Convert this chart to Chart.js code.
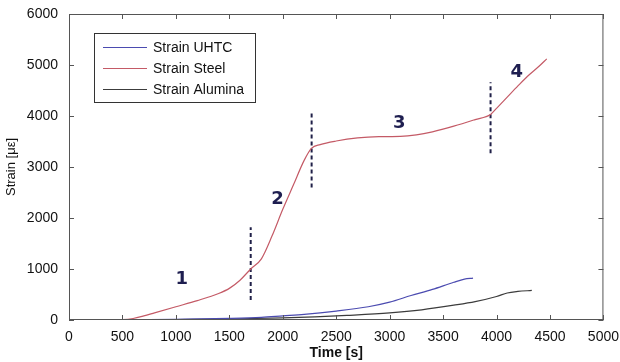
<!DOCTYPE html>
<html>
<head>
<meta charset="utf-8">
<script src="https://cdn.jsdelivr.net/npm/chart.js@4/dist/chart.umd.min.js"></script>
<style>
  html, body { margin: 0; padding: 0; background: #fff; }
  #c { display: block; }
</style>
</head>
<body>
<canvas id="c" width="620" height="362"></canvas>
<script>
  // valori (tempo in s, deformazione in microstrain)
  const steelTime   = [0, 300, 500, 600, 700, 800, 1000, 1200, 1400, 1500, 1600, 1700, 1800, 1900, 2000, 2100, 2200, 2270, 2350, 2500, 2700, 2900, 3100, 3250, 3400, 3600, 3800, 3944, 4000, 4100, 4200, 4290, 4400, 4470];
  const steelStrain = [0, 5, 10, 30, 80, 140, 260, 380, 520, 620, 780, 1000, 1200, 1650, 2170, 2650, 3130, 3370, 3440, 3510, 3570, 3595, 3600, 3630, 3690, 3800, 3930, 4030, 4150, 4370, 4590, 4780, 4980, 5120];

  const uhtcTime   = [0, 500, 1000, 1500, 1800, 2000, 2200, 2500, 2800, 3000, 3200, 3400, 3600, 3700, 3780];
  const uhtcStrain = [0, 5, 15, 30, 50, 80, 110, 175, 260, 350, 480, 600, 740, 800, 820];

  const aluTime   = [0, 500, 1000, 1500, 2000, 2300, 2600, 3000, 3300, 3600, 3800, 4000, 4100, 4200, 4330];
  const aluStrain = [0, 0, 10, 20, 40, 60, 90, 140, 200, 290, 360, 460, 530, 560, 580];

  // linee tratteggiate di separazione delle fasi: [tempo, da, a]
  const phaseLines = [[1700, 390, 1820], [2270, 2600, 4070], [3944, 3270, 4660]];
  // etichette delle fasi
  const phaseLabels = ['1', '2', '3', '4'];
  const phaseLabelPos = [[1055, 790], [1950, 2370], [3090, 3850], [4190, 4860]];

  const xTicks = [0, 500, 1000, 1500, 2000, 2500, 3000, 3500, 4000, 4500, 5000];
  const yTicks = [0, 1000, 2000, 3000, 4000, 5000, 6000];

  const FONT = '"Liberation Sans", Arial, sans-serif';
  const pts = (xs, ys) => xs.map((x, i) => ({ x: x, y: ys[i] }));

  const series = [
    { label: 'Strain UHTC',    data: pts(uhtcTime, uhtcStrain),   borderColor: '#4b4bb0' },
    { label: 'Strain Steel',   data: pts(steelTime, steelStrain), borderColor: '#c45a66' },
    { label: 'Strain Alumina', data: pts(aluTime, aluStrain),     borderColor: '#3c3c3c' }
  ].map(s => Object.assign(s, { borderWidth: 1.2, pointRadius: 0, cubicInterpolationMode: 'monotone', fill: false }));

  const dashed = phaseLines.map(l => ({
    label: '',
    data: [{ x: l[0], y: l[1] }, { x: l[0], y: l[2] }],
    borderColor: '#202048',
    borderWidth: 2,
    borderDash: [4, 3],
    pointRadius: 0
  }));

  // box + tacche interne stile matlab, legenda ed etichette fasi
  const decor = {
    id: 'decor',
    afterDraw(chart) {
      const c = chart.ctx, a = chart.chartArea;
      const xs = chart.scales.x, ys = chart.scales.y;
      c.save();
      c.strokeStyle = '#555';
      c.lineWidth = 1;
      c.strokeRect(a.left + 0.5, a.top + 0.5, a.right - a.left - 1, a.bottom - a.top - 1);
      c.beginPath();
      xTicks.forEach(t => {
        const px = Math.round(xs.getPixelForValue(t)) + 0.5;
        c.moveTo(px, a.bottom); c.lineTo(px, a.bottom - 5);
        c.moveTo(px, a.top); c.lineTo(px, a.top + 5);
      });
      yTicks.forEach(t => {
        const py = Math.round(ys.getPixelForValue(t)) + 0.5;
        c.moveTo(a.left, py); c.lineTo(a.left + 5, py);
        c.moveTo(a.right, py); c.lineTo(a.right - 5, py);
      });
      c.stroke();

      // etichette fasi
      c.fillStyle = '#1e1e50';
      c.font = 'bold 18px "DejaVu Sans", sans-serif';
      c.textAlign = 'center';
      c.textBaseline = 'middle';
      phaseLabels.forEach((t, i) => {
        c.fillText(t, xs.getPixelForValue(phaseLabelPos[i][0]), ys.getPixelForValue(phaseLabelPos[i][1]));
      });

      // legenda
      const lx = 94, ly = 33, lw = 161, lh = 69;
      c.fillStyle = '#fff';
      c.fillRect(lx, ly, lw, lh);
      c.strokeStyle = '#333';
      c.strokeRect(lx + 0.5, ly + 0.5, lw, lh);
      c.font = '14px ' + FONT;
      c.textAlign = 'left';
      series.forEach((s, i) => {
        const y = ly + 14 + i * 21;
        c.strokeStyle = s.borderColor;
        c.lineWidth = 1.2;
        c.beginPath();
        c.moveTo(lx + 9, y + 0.5); c.lineTo(lx + 53, y + 0.5);
        c.stroke();
        c.fillStyle = '#111';
        c.fillText(s.label, lx + 59, y + 1);
      });
      c.restore();
    }
  };

  new Chart(document.getElementById('c'), {
    type: 'line',
    data: { datasets: series.concat(dashed) },
    options: {
      responsive: false,
      animation: false,
      layout: { padding: { left: 0, right: 16, top: 14, bottom: 0 } },
      plugins: {
        legend: { display: false },
        tooltip: { enabled: false }
      },
      scales: {
        x: {
          type: 'linear',
          min: 0, max: 5000,
          afterBuildTicks: s => { s.ticks = xTicks.map(v => ({ value: v })); },
          afterFit: s => { s.height = 42; },
          grid: { display: false },
          border: { display: false },
          ticks: { color: '#111', font: { size: 14, family: FONT }, padding: 1, maxRotation: 0, callback: v => String(v) },
          title: { display: true, text: 'Time [s]', color: '#111', font: { size: 14, weight: 'bold', family: FONT }, padding: { top: 1, bottom: 0 } }
        },
        y: {
          min: 0, max: 6000,
          afterBuildTicks: s => { s.ticks = yTicks.map(v => ({ value: v })); },
          afterFit: s => { s.width = 69; },
          grid: { display: false },
          border: { display: false },
          ticks: { color: '#111', font: { size: 14, family: FONT }, padding: 3, callback: v => String(v) },
          title: { display: true, text: 'Strain [με]', color: '#111', font: { size: 13, family: FONT }, padding: { top: 4, bottom: 0 } }
        }
      }
    },
    plugins: [decor]
  });
</script>
</body>
</html>
